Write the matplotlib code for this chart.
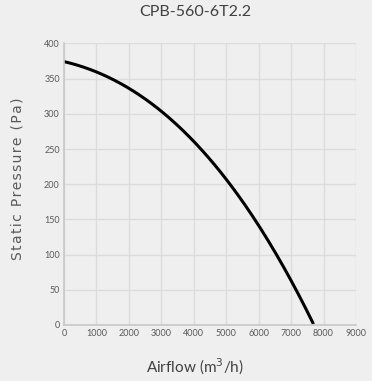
import matplotlib
matplotlib.use('Agg')
import matplotlib.pyplot as plt
import numpy as np

# data
airflow = [0, 1000, 2000, 3000, 4000, 5000, 6000, 7000, 7690]
pressure = [373, 361, 338, 303, 257, 208, 143, 64, 0]
x_ticks = [0, 1000, 2000, 3000, 4000, 5000, 6000, 7000, 8000, 9000]
y_ticks = [0, 50, 100, 150, 200, 250, 300, 350, 400]

# smooth line through the read points
xs = np.linspace(airflow[0], airflow[-1], 200)
coef = np.polyfit(airflow, pressure, 3)
ys = np.polyval(coef, xs)

bg = '#efefef'
fig = plt.figure(figsize=(3.72, 3.81), dpi=100, facecolor=bg)
ax = fig.add_axes([0.172, 0.147, 0.785, 0.739], facecolor=bg)

ax.plot(xs, ys, color='black', lw=2.2, solid_capstyle='butt')

ax.set_xlim(0, 9000)
ax.set_ylim(0, 400)
ax.set_xticks(x_ticks)
ax.set_yticks(y_ticks)
ax.grid(True, color='#dcdcdc', lw=1)
ax.set_axisbelow(True)
for s in ['top', 'right']:
    ax.spines[s].set_visible(False)
for s in ['left', 'bottom']:
    ax.spines[s].set_color('#c8c8c8')
    ax.spines[s].set_linewidth(1.2)
ax.tick_params(length=0, pad=3, labelsize=6.5, colors='#595959')
for lab in ax.get_xticklabels() + ax.get_yticklabels():
    lab.set_family('Lato')

fig.text(0.525, 0.968, 'CPB-560-6T2.2', ha='center', va='center',
         fontsize=11.5, color='#404040', family='Lato')
fig.text(0.525, 0.037, 'Airflow (m$^3$/h)', ha='center', va='center',
         fontsize=11, color='#404040', family='Lato')
# slightly letter-spaced label, like the reference
ylab = '\u200a'.join('Static Pressure (Pa)')
fig.text(0.046, 0.53, ylab, rotation=90,
         ha='center', va='center', fontsize=10, color='#595959', family='DejaVu Sans')

fig.savefig('out.png', dpi=100, facecolor=bg)
